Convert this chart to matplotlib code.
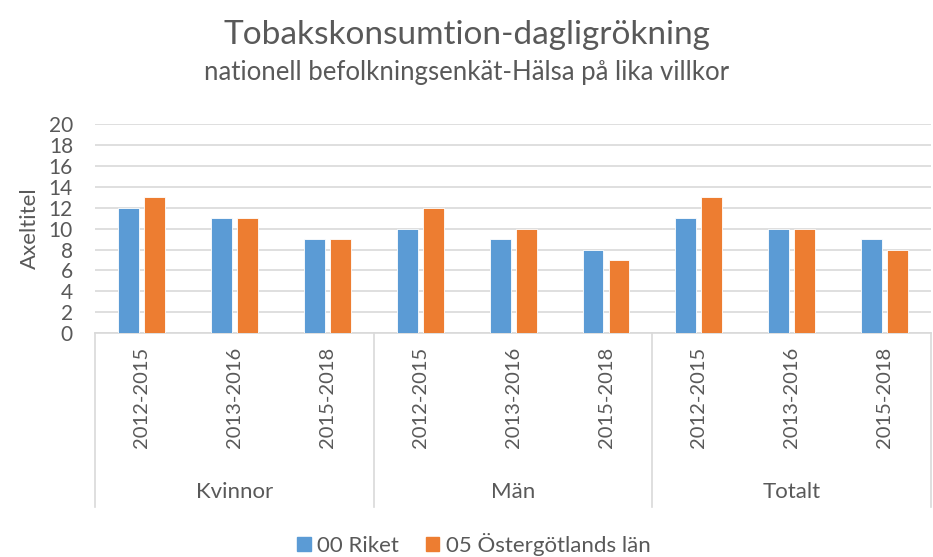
import matplotlib.pyplot as plt
import numpy as np
from matplotlib.patches import Patch

plt.rcParams['font.family'] = ['Lato', 'DejaVu Sans']

# data
groups = ["Kvinnor", "Män", "Totalt"]
periods = ["2012-2015", "2013-2016", "2015-2018"]
series_names = ["00 Riket", "05 Östergötlands län"]
riket = [12, 11, 9, 10, 9, 8, 11, 10, 9]
ostergotland = [13, 11, 9, 12, 10, 7, 13, 10, 8]

blue = "#5b9bd5"
orange = "#ed7d31"
txt = "#595959"
grid = "#d9d9d9"

fig = plt.figure(figsize=(9.33, 5.57), dpi=100)
ax = fig.add_axes([0.102, 0.402, 0.896, 0.375])

x = np.arange(len(riket))
w = 0.225
ax.bar(x - 0.14, riket, w, color=blue, edgecolor="white", linewidth=0.6, zorder=3)
ax.bar(x + 0.14, ostergotland, w, color=orange, edgecolor="white", linewidth=0.6, zorder=3)

ax.set_xlim(-0.5, len(riket) - 0.5)
ax.set_ylim(0, 20)
ax.set_yticks(np.arange(0, 21, 2))
ax.yaxis.grid(True, color=grid, linewidth=1.2, zorder=0)
ax.tick_params(axis="y", length=0, labelsize=15, labelcolor=txt, pad=16)
for s in ["left", "right", "top"]:
    ax.spines[s].set_visible(False)
ax.spines["bottom"].set_color(grid)
ax.spines["bottom"].set_linewidth(1.2)

# inner category labels (rotated)
ax.set_xticks(x)
ax.set_xticklabels(periods * len(groups), rotation=90, fontsize=14.5, color=txt)
ax.tick_params(axis="x", length=0, pad=10)

# group separators and group labels
trans = ax.get_xaxis_transform()
for b in [-0.5, 2.5, 5.5, 8.5]:
    ax.plot([b, b], [0, -0.835], transform=trans, color=grid, linewidth=1.2, clip_on=False)
for i, g in enumerate(groups):
    ax.text(i * 3 + 1, -0.76, g, transform=trans, ha="center", va="center",
            fontsize=16, color=txt)

ax.set_ylabel("Axeltitel", fontsize=16, color=txt, labelpad=6)

fig.text(0.5, 0.938, "Tobakskonsumtion-dagligrökning", ha="center", va="center",
         fontsize=24, color=txt)
fig.text(0.5, 0.87, "nationell befolkningsenkät-Hälsa på lika villkor", ha="center",
         va="center", fontsize=18.5, color=txt)

handles = [Patch(color=blue), Patch(color=orange)]
fig.legend(handles, series_names, loc="center", bbox_to_anchor=(0.508, 0.022), ncol=2,
           frameon=False, fontsize=16, labelcolor=txt, handlelength=0.6,
           handleheight=0.6, handletextpad=0.3, columnspacing=1.2)

fig.savefig("out.png", dpi=100)
